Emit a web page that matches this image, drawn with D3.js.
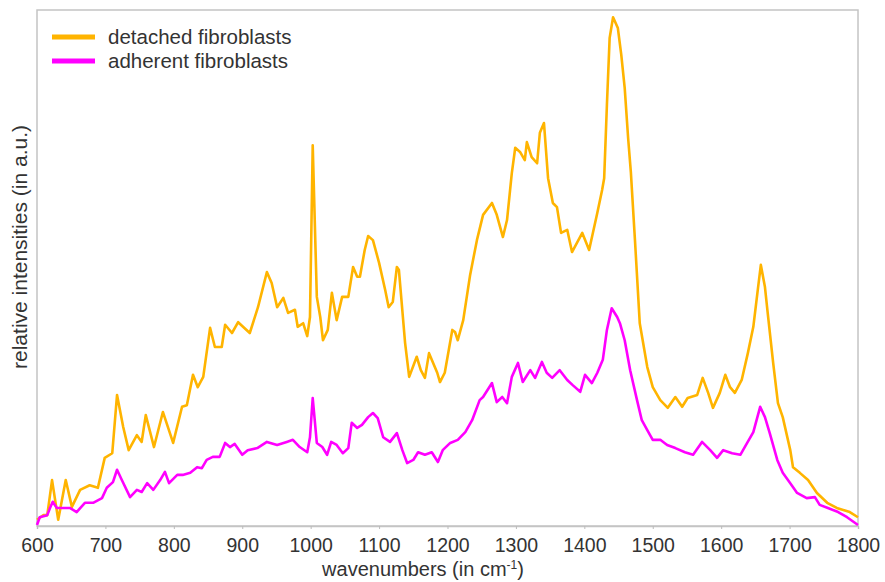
<!DOCTYPE html>
<html>
<head>
<meta charset="utf-8">
<script src="https://cdn.jsdelivr.net/npm/d3@7"></script>
<style>
  body { margin: 0; background: #fff; }
  text { font-family: "Liberation Sans", Arial, sans-serif; fill: #333; }
</style>
</head>
<body>
<div id="chart"></div>
<script>
// detached fibroblasts (orange) - wavenumber / intensity
const detachedWn = [600,609,615,622,631,642,651,663,677,689,699,710,717,726,734,746,753,759,771,784,799,812,819,828,835,843,853,860,870,875,885,894,911,923,936,943,951,960,967,977,981,989,995,999,1003,1009,1014,1018,1025,1031,1038,1046,1055,1062,1068,1072,1079,1084,1091,1100,1109,1114,1120,1126,1129,1138,1144,1155,1161,1167,1173,1185,1189,1196,1207,1211,1215,1223,1233,1243,1252,1265,1272,1281,1287,1294,1299,1306,1313,1316,1323,1331,1335,1341,1347,1354,1360,1366,1375,1382,1389,1397,1407,1419,1426,1429,1433,1437,1442,1449,1454,1459,1464,1468,1474,1481,1492,1500,1511,1522,1533,1543,1551,1565,1573,1581,1588,1598,1606,1613,1620,1630,1639,1647,1654,1658,1664,1668,1676,1683,1690,1701,1705,1715,1727,1740,1755,1769,1788,1800];
const detachedI = [1.2,2.1,2.1,8.9,1.2,8.9,3.7,7.0,7.9,7.4,13.2,14.1,25.4,19.2,14.7,17.6,16.3,21.5,15.3,22.1,16.1,23.1,23.4,29.3,26.9,28.9,38.4,34.7,34.7,39.0,37.4,39.5,37.4,42.4,49.2,47.1,42.4,44.2,41.3,41.9,38.6,39.3,36.8,40.5,73.8,44.4,40.5,36.0,38.0,45.2,39.9,44.4,44.4,50.2,48.3,48.3,53.5,56.2,55.4,51.0,45.7,42.4,43.4,50.2,49.6,35.5,28.9,32.8,30.2,28.7,33.5,29.7,27.9,29.7,38.0,37.6,36.0,39.9,48.6,55.4,60.3,62.6,60.3,56.0,59.3,68.4,73.3,72.5,70.9,74.4,71.5,70.3,76.2,78.1,67.4,62.6,61.8,56.8,57.4,53.1,54.8,56.8,53.5,60.7,65.1,67.4,81.6,94.6,98.6,96.5,91.3,84.9,75.2,68.6,55.4,39.3,30.8,26.9,24.4,22.9,25.0,23.1,24.8,25.4,28.7,25.8,22.9,25.8,29.3,26.9,25.8,28.3,33.5,38.6,46.3,50.6,46.3,41.3,31.6,23.8,21.1,14.7,11.4,10.3,8.9,6.4,4.5,3.5,2.7,1.7];

// adherent fibroblasts (magenta)
const adherentWn = [600,604,615,619,623,629,637,648,658,670,682,695,702,711,717,724,736,746,753,761,770,780,787,793,805,813,824,834,841,848,857,867,875,882,889,900,908,922,936,951,965,974,984,995,999,1003,1009,1017,1024,1030,1038,1047,1055,1060,1068,1075,1084,1091,1098,1106,1116,1126,1134,1141,1150,1157,1167,1177,1186,1193,1204,1215,1226,1236,1247,1252,1265,1272,1280,1287,1294,1303,1310,1321,1328,1338,1345,1353,1364,1375,1383,1394,1401,1411,1419,1427,1433,1440,1448,1452,1459,1467,1477,1484,1492,1500,1511,1521,1533,1547,1559,1572,1584,1594,1603,1616,1628,1638,1647,1657,1664,1671,1682,1690,1701,1711,1725,1737,1744,1756,1771,1784,1800];
const adherentI = [0.2,1.7,2.1,3.5,4.7,3.5,3.5,3.5,2.7,4.5,4.5,5.4,7.4,8.5,10.9,8.9,5.6,7.0,6.6,8.3,7.0,8.9,10.5,8.3,9.9,9.9,10.3,11.4,11.2,12.8,13.4,13.4,16.1,15.3,15.9,13.8,14.7,15.1,16.3,15.7,16.3,16.7,15.3,14.3,17.2,24.8,16.1,15.3,13.8,16.3,15.7,14.1,15.1,20.0,19.0,19.6,21.1,21.9,20.9,17.2,16.3,18.0,14.7,12.2,12.8,14.3,13.8,14.3,12.4,14.7,16.1,16.7,18.2,20.5,24.4,25.0,27.7,24.0,25.0,23.8,28.9,31.6,27.9,30.2,28.7,31.8,29.7,28.7,30.2,28.3,27.3,26.0,29.3,27.7,29.7,32.2,38.0,42.2,40.5,39.3,36.0,30.2,24.4,20.5,18.6,16.7,16.7,15.7,15.1,14.3,13.8,16.3,14.7,13.2,14.7,14.1,13.8,16.1,18.2,23.1,21.1,18.0,12.8,10.3,8.3,6.4,5.4,5.6,4.1,3.5,2.7,1.7,0.2];

const xTicks = [600,700,800,900,1000,1100,1200,1300,1400,1500,1600,1700,1800];
const seriesNames = ["detached fibroblasts", "adherent fibroblasts"];
const seriesColors = ["#ffb400", "#ff00ff"];

const W = 885, H = 582;
const margin = {top: 10, right: 27, bottom: 56, left: 37};

const svg = d3.select("#chart").append("svg")
  .attr("width", W)
  .attr("height", H);

const x = d3.scaleLinear().domain([600, 1800]).range([margin.left, W - margin.right]);
const y = d3.scaleLinear().domain([0, 100]).range([H - margin.bottom, margin.top]);

// plot frame
svg.append("rect")
  .attr("x", margin.left)
  .attr("y", margin.top)
  .attr("width", W - margin.left - margin.right)
  .attr("height", H - margin.top - margin.bottom)
  .attr("fill", "none")
  .attr("stroke", "#c4c4c4")
  .attr("stroke-width", 1.5);

// x axis
const xAxis = svg.append("g")
  .attr("transform", `translate(0,${H - margin.bottom})`)
  .call(d3.axisBottom(x).tickValues(xTicks).tickSize(3).tickPadding(9).tickFormat(d3.format("d")));
xAxis.select(".domain").attr("stroke", "#c4c4c4").attr("stroke-width", 1.5);
xAxis.selectAll(".tick line").attr("stroke", "#bbb");
xAxis.selectAll(".tick text")
  .attr("fill", "#333")
  .style("font-size", "19.5px")
  .style("font-family", "'Liberation Sans', Arial, sans-serif");

// axis titles
const xt = svg.append("text")
  .attr("x", 423)
  .attr("y", 576)
  .attr("text-anchor", "middle")
  .style("font-size", "20px");
xt.append("tspan").text("wavenumbers (in cm");
xt.append("tspan").attr("dy", -7).style("font-size", "12px").text("-1");
xt.append("tspan").attr("dy", 7).text(")");

svg.append("text")
  .attr("transform", "translate(27,247) rotate(-90)")
  .attr("text-anchor", "middle")
  .style("font-size", "21px")
  .text("relative intensities (in a.u.)");

// lines
const line = d3.line()
  .x(d => x(d[0]))
  .y(d => y(d[1]));

const series = [
  d3.zip(detachedWn, detachedI),
  d3.zip(adherentWn, adherentI)
];

svg.selectAll("path.spec")
  .data(series)
  .join("path")
  .attr("class", "spec")
  .attr("d", line)
  .attr("fill", "none")
  .attr("stroke", (d, i) => seriesColors[i])
  .attr("stroke-width", 2.6)
  .attr("stroke-linejoin", "round");

// legend
const legend = svg.append("g");
seriesNames.forEach((name, i) => {
  const ly = 37 + i * 24;
  legend.append("line")
    .attr("x1", 52).attr("x2", 95)
    .attr("y1", ly).attr("y2", ly)
    .attr("stroke", seriesColors[i])
    .attr("stroke-width", 5);
  legend.append("text")
    .attr("x", 108)
    .attr("y", ly + 7)
    .style("font-size", "20.5px")
    .text(name);
});
</script>
</body>
</html>
